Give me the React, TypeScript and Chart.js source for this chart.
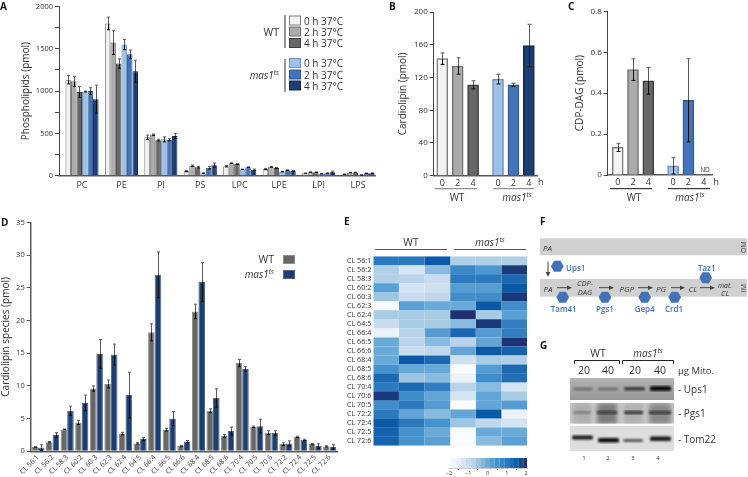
import React, { useEffect, useRef } from "react";
import { Chart, registerables } from "chart.js";

Chart.register(...registerables);

const FONT = "'Open Sans', sans-serif";
const INK = "#333333";

// ---------- data ----------
const lipidClasses = ["PC", "PE", "PI", "PS", "LPC", "LPE", "LPI", "LPS"];
const conditionNames = ["WT 0 h 37°C", "WT 2 h 37°C", "WT 4 h 37°C", "mas1ts 0 h 37°C", "mas1ts 2 h 37°C", "mas1ts 4 h 37°C"];
const wt0 = [1135, 1800, 455, 55, 112, 78, 28, 17];
const wt2 = [1115, 1575, 485, 118, 148, 105, 42, 37];
const wt4 = [990, 1325, 420, 100, 138, 92, 42, 38];
const mas0 = [995, 1550, 430, 30, 75, 48, 22, 8];
const mas2 = [1000, 1435, 425, 95, 100, 65, 30, 28];
const mas4 = [905, 1235, 470, 125, 70, 55, 42, 28];
const wt0Err = [50, 75, 25, 8, 8, 8, 3, 3];
const wt2Err = [60, 140, 8, 8, 4, 5, 4, 3];
const wt4Err = [65, 55, 10, 10, 4, 4, 3, 4];
const mas0Err = [5, 60, 30, 3, 3, 3, 2, 1];
const mas2Err = [40, 50, 12, 15, 5, 5, 3, 3];
const mas4Err = [165, 130, 30, 25, 8, 6, 12, 5];

const hours = ["0", "2", "4", "0", "2", "4"];
const cardiolipin = [143, 134, 111, 118, 111, 159];
const cardiolipinErr = [7, 10, 5, 6, 2, 26];
const cdpDag = [0.135, 0.515, 0.46, 0.045, 0.365, null];
const cdpDagErr = [0.02, 0.053, 0.065, 0.04, 0.203, null];

const speciesD = ["CL 56:1", "CL 56:2", "CL 58:3", "CL 60:2", "CL 60:3", "CL 62:3", "CL 62:4", "CL 64:5", "CL 66:4", "CL 66:5", "CL 66:6", "CL 68:4", "CL 68:5", "CL 68:6", "CL 70:4", "CL 70:5", "CL 70:6", "CL 72:2", "CL 72:4", "CL 72:5", "CL 72:6"];
const speciesWt = [0.65, 1.4, 3.35, 4.4, 9.6, 10.3, 2.7, 1.2, 18.2, 3.3, 0.8, 21.4, 6.2, 2.35, 13.5, 3.75, 2.85, 1.1, 2.2, 1.1, 0.75];
const speciesWtErr = [0.05, 0.1, 0.05, 0.3, 0.4, 0.6, 0.2, 0.1, 1.3, 0.2, 0.1, 1.1, 0.3, 0.25, 0.55, 0.1, 0.3, 0.2, 0.1, 0.1, 0.1];
const speciesMas = [0.55, 2.5, 6.2, 7.4, 14.9, 14.8, 8.6, 1.9, 27, 5, 1.5, 25.9, 8.15, 3.1, 12.6, 3.85, 2.8, 1.2, 1.75, 0.8, 0.65];
const speciesMasErr = [0.45, 0.35, 0.7, 1.2, 2.2, 1.6, 3.5, 0.2, 3.5, 1.1, 0.15, 3, 1.4, 0.6, 0.35, 1.05, 0.35, 0.4, 0.1, 0.35, 0.35];

const speciesE = ["CL 56:1", "CL 56:2", "CL 58:3", "CL 60:2", "CL 60:3", "CL 62:3", "CL 62:4", "CL 64:5", "CL 66:4", "CL 66:5", "CL 66:6", "CL 68:4", "CL 68:5", "CL 68:6", "CL 70:4", "CL 70:6", "CL 70:5", "CL 72:2", "CL 72:4", "CL 72:5", "CL 72:6"];
const zWt1 = [1.0, -0.7, -0.7, 0.2, -0.5, -2, -0.6, -1.0, -1.6, 0, 0, 0, 0.5, 1.3, 1.0, 1.9, 0.6, 1.0, 1.6, 1.4, 1.4];
const zWt2 = [1.0, -1.2, -0.8, -1.2, -1.0, 0.2, -0.6, -0.6, -0.8, -0.8, -1.0, 1.6, 0.05, -0.5, 1.3, 0.6, 1.0, 0.1, 1.0, 0.5, 0.5];
const zWt3 = [1.6, -0.3, -1.0, -1.1, -0.9, 0, -0.6, -0.6, 0.3, -0.3, -0.9, 1.3, 0.05, -0.3, 0.9, 0.1, 0.3, -0.3, 0.5, 0, 0.2];
const zMas1 = [-0.7, 0.7, 1.0, 0.3, 0.6, 0, 2.0, -0.3, 1.3, -0.8, 0.1, -1.1, -2, -1.6, -0.8, -1.2, -2, 0.1, -0.5, -2, -2];
const zMas2 = [-0.7, 0.4, 1.0, 0.3, 0.6, 1.6, -0.6, 1.9, 0.3, 0.1, 1.6, -0.6, 0.3, 0.6, -0.3, 0.1, 0.1, 1.6, -0.9, 0, -0.3];
const zMas3 = [-0.7, 1.9, 1.3, 1.6, 1.9, 0.6, 0.2, 0.9, 0.9, 1.95, 1.4, -0.7, 1.3, 1.2, -1.2, -0.6, 0.3, -1.6, -1.2, 0, 0.2];
const heatColumns = [zWt1, zWt2, zWt3, zMas1, zMas2, zMas3];
const scaleSteps = [-2, -1.75, -1.5, -1.25, -1, -0.75, -0.5, -0.25, 0, 0.25, 0.5, 0.75, 1, 1.25, 1.5, 1.75, 2];
const scaleTicks = [-2, -1, 0, 1, 2];

const legendRows = ["0 h 37°C", "2 h 37°C", "4 h 37°C"];
const pathway = ["PA", "PGP", "PG", "CL"];
const laneLoads = ["20", "40", "20", "40"];
const laneNumbers = ["1", "2", "3", "4"];
const blotNames = ["- Ups1", "- Pgs1", "- Tom22"];

// ---------- styles ----------
const FILLS = ["#f2f2f2", "#ababab", "#676767", "#9dc0e8", "#4373b8", "#1d3e72"];
const EDGES = ["#7a7a7a", "#707070", "#3e3e3e", "#7391b8", "#2f5a97", "#14294d"];
const BLUE = "#4472b8";

const heatStops: [number, number[]][] = [
  [-2, [248, 252, 255]],
  [-1.5, [232, 240, 249]],
  [-1, [201, 220, 239]],
  [-0.6, [168, 204, 228]],
  [0, [106, 170, 216]],
  [0.5, [69, 146, 205]],
  [1, [45, 121, 189]],
  [1.6, [11, 88, 165]],
  [2, [31, 47, 111]],
];
function heatColor(z: number) {
  for (let i = 1; i < heatStops.length; i++) {
    if (z <= heatStops[i][0]) {
      const [a, ca] = heatStops[i - 1];
      const [b, cb] = heatStops[i];
      const t = Math.max(0, (z - a) / (b - a));
      const c = ca.map((v, k) => Math.round(v + (cb[k] - v) * t));
      return `rgb(${c[0]},${c[1]},${c[2]})`;
    }
  }
  return "rgb(31,47,111)";
}

// ---------- error bars, drawn through the value scale ----------
const errorBars = {
  id: "errorBars",
  afterDatasetsDraw(chart: any) {
    const { ctx, scales } = chart;
    chart.data.datasets.forEach((ds: any, di: number) => {
      if (!ds.err) return;
      const meta = chart.getDatasetMeta(di);
      meta.data.forEach((bar: any, i: number) => {
        const v = ds.values[i];
        const e = ds.err[i];
        if (v == null || e == null) return;
        const top = scales.y.getPixelForValue(v + e);
        const mid = scales.y.getPixelForValue(v);
        const bot = scales.y.getPixelForValue(Math.max(0, v - e));
        const x = Math.round(bar.x) + 0.5;
        const cap = ds.capHalf ?? 1.5;
        ctx.save();
        ctx.lineWidth = 1;
        ctx.strokeStyle = "#5a5a5a";
        ctx.beginPath();
        ctx.moveTo(x, top);
        ctx.lineTo(x, mid);
        ctx.moveTo(x - cap, top);
        ctx.lineTo(x + cap, top);
        ctx.stroke();
        ctx.strokeStyle = "#111111";
        ctx.beginPath();
        ctx.moveTo(x, mid);
        ctx.lineTo(x, bot);
        ctx.moveTo(x - cap, bot);
        ctx.lineTo(x + cap, bot);
        ctx.stroke();
        ctx.restore();
      });
    });
  },
};

type Box = { x: number; y: number; w: number; h: number };
type Area = { l: number; t: number; r: number; b: number };

function fixedLayout(box: Box, area: Area) {
  return {
    autoPadding: false,
    padding: { top: area.t - box.y, right: box.x + box.w - area.r, left: 0, bottom: 0 },
  };
}

function yAxis(box: Box, area: Area, o: any) {
  return {
    type: "linear",
    min: o.min,
    max: o.max,
    afterFit: (s: any) => { s.width = area.l - box.x; },
    grid: { drawOnChartArea: false, tickLength: 4, tickWidth: 1, tickColor: o.color ?? "#444" },
    border: { color: o.color ?? "#444", width: o.width ?? 1 },
    title: { display: true, text: o.title, color: INK, font: { family: FONT, size: 10 }, padding: { top: o.titlePad, bottom: 0 } },
    ticks: {
      stepSize: o.step,
      padding: 2,
      color: INK,
      font: { family: FONT, size: o.size ?? 7.5 },
      callback: o.fmt,
      autoSkip: false,
    },
  };
}

function xLinear(box: Box, area: Area, o: any) {
  return {
    type: "linear",
    offset: false,
    min: o.min,
    max: o.max,
    afterFit: (s: any) => { s.height = box.y + box.h - area.b; },
    afterBuildTicks: (s: any) => { s.ticks = o.slots.map((value: number) => ({ value })); },
    grid: { display: false, drawTicks: false },
    border: { color: "#5a5a5a", width: 1.5 },
    ticks: {
      autoSkip: false,
      maxRotation: 0,
      padding: o.pad ?? 3,
      color: INK,
      font: { family: FONT, size: o.size ?? 9 },
      callback: (_v: any, i: number) => o.labels[i],
    },
  };
}

function useChart(make: (c: HTMLCanvasElement) => Chart) {
  const ref = useRef<HTMLCanvasElement | null>(null);
  useEffect(() => {
    const chart = make(ref.current as HTMLCanvasElement);
    return () => chart.destroy();
  }, []);
  return ref;
}

function canvasStyle(b: Box): React.CSSProperties {
  return { position: "absolute", left: b.x, top: b.y, width: b.w, height: b.h };
}

// ---------- panel A ----------
function PanelA() {
  const box = { x: 0, y: 0, w: 378, h: 196 };
  const area = { l: 59, t: 6, r: 375, b: 175.7 };
  const values = [wt0, wt2, wt4, mas0, mas2, mas4];
  const errs = [wt0Err, wt2Err, wt4Err, mas0Err, mas2Err, mas4Err];
  const ref = useChart((c) => new Chart(c, {
    type: "bar",
    plugins: [errorBars],
    data: {
      datasets: values.map((v, k) => ({
        label: conditionNames[k],
        data: v.map((y, i) => ({ x: i, y })),
        values: v,
        err: errs[k],
        backgroundColor: FILLS[k],
        borderColor: EDGES[k],
        borderWidth: 1,
        barPercentage: 1,
        categoryPercentage: 0.84,
      })) as any,
    },
    options: {
      responsive: false,
      animation: false,
      layout: fixedLayout(box, area) as any,
      plugins: { legend: { display: false }, tooltip: { enabled: false } },
      scales: {
        x: xLinear(box, area, { min: -0.583, max: 7.43, slots: lipidClasses.map((_, i) => i), labels: lipidClasses, pad: 4 }),
        y: yAxis(box, area, { min: 0, max: 2000, step: 250, title: "Phospholipids (pmol)", titlePad: 20, fmt: (v: number) => (v % 500 === 0 ? String(v) : "") }),
      } as any,
    },
  }));
  return <canvas ref={ref} width={box.w} height={box.h} style={canvasStyle(box)} />;
}

// ---------- panels B and C ----------
const GENOTYPE_GAP = 0.62;
const slotOf = (i: number) => i + (i >= 3 ? GENOTYPE_GAP : 0);

function PanelSmall({ box, area, values, errs, min, max, ymax, step, title, titlePad, fmt }: any) {
  const ref = useChart((c) => new Chart(c, {
    type: "bar",
    plugins: [errorBars],
    data: {
      datasets: [{
        label: title,
        data: values.map((y: number | null, i: number) => ({ x: slotOf(i), y })),
        values,
        err: errs,
        capHalf: 2,
        backgroundColor: FILLS,
        borderColor: EDGES,
        borderWidth: 1.5,
        barThickness: 11,
      }] as any,
    },
    options: {
      responsive: false,
      animation: false,
      layout: fixedLayout(box, area) as any,
      plugins: { legend: { display: false }, tooltip: { enabled: false } },
      scales: {
        x: xLinear(box, area, { min, max, slots: hours.map((_, i) => slotOf(i)), labels: hours, pad: 2 }),
        y: yAxis(box, area, { min: 0, max: ymax, step, title, titlePad, fmt, size: 8 }),
      } as any,
    },
  }));
  return <canvas ref={ref} width={box.w} height={box.h} style={canvasStyle(box)} />;
}

// ---------- panel D ----------
function PanelD() {
  const box = { x: 0, y: 216, w: 340, h: 261 };
  const area = { l: 30.7, t: 221.7, r: 337, b: 451.3 };
  const ref = useChart((c) => new Chart(c, {
    type: "bar",
    plugins: [errorBars],
    data: {
      labels: speciesD,
      datasets: [
        { label: "WT", data: speciesWt, values: speciesWt, err: speciesWtErr, backgroundColor: "#676767", borderColor: "#8c8c8c", borderWidth: 1, barPercentage: 1, categoryPercentage: 0.9 },
        { label: "mas1ts", data: speciesMas, values: speciesMas, err: speciesMasErr, backgroundColor: "#1d3e72", borderColor: "#55657f", borderWidth: 1, barPercentage: 1, categoryPercentage: 0.9 },
      ] as any,
    },
    options: {
      responsive: false,
      animation: false,
      layout: fixedLayout(box, area) as any,
      plugins: { legend: { display: false }, tooltip: { enabled: false } },
      scales: {
        x: {
          type: "category",
          afterFit: (s: any) => { s.height = box.y + box.h - area.b; },
          grid: { display: false, drawTicks: false },
          border: { color: "#5a5a5a", width: 1.5 },
          ticks: { autoSkip: false, minRotation: 45, maxRotation: 45, padding: 2, color: INK, font: { family: FONT, size: 7 } },
        },
        y: yAxis(box, area, { min: 0, max: 35, step: 5, title: "Cardiolipin species (pmol)", titlePad: 0, color: "#5a5a5a", width: 1.5, fmt: (v: number) => String(v) }),
      } as any,
    },
  }));
  return <canvas ref={ref} width={box.w} height={box.h} style={canvasStyle(box)} />;
}

// ---------- panel E ----------
function Heatmap() {
  const box = { x: 338, y: 250, w: 192, h: 202 };
  const area = { l: 373.3, t: 255.7, r: 527, b: 447.3 };
  const ref = useChart((c) => new Chart(c, {
    type: "bar",
    data: {
      labels: speciesE,
      datasets: heatColumns.map((col, k) => ({
        label: `column ${k + 1}`,
        data: col.map(() => 1),
        backgroundColor: col.map(heatColor),
        borderWidth: 0,
        barPercentage: 1.02,
        categoryPercentage: 1,
      })) as any,
    },
    options: {
      indexAxis: "y",
      responsive: false,
      animation: false,
      layout: { autoPadding: false, padding: { top: area.t - box.y, right: box.x + box.w - area.r, bottom: box.y + box.h - area.b, left: 0 } } as any,
      plugins: { legend: { display: false }, tooltip: { enabled: false } },
      scales: {
        x: { type: "linear", stacked: true, min: 0, max: 6, display: false },
        y: {
          type: "category",
          stacked: true,
          afterFit: (s: any) => { s.width = area.l - box.x; },
          grid: { display: false, drawTicks: false },
          border: { display: false },
          ticks: { autoSkip: false, padding: 2, color: INK, font: { family: FONT, size: 7.2 } },
        },
      } as any,
    },
  }));
  return <canvas ref={ref} width={box.w} height={box.h} style={canvasStyle(box)} />;
}

function Colorbar() {
  const box = { x: 440, y: 455, w: 95, h: 22 };
  const area = { l: 448, t: 458, r: 527, b: 468 };
  const ref = useChart((c) => new Chart(c, {
    type: "bar",
    data: {
      datasets: [{
        label: "z-score",
        data: scaleSteps.map((x) => ({ x, y: 1 })),
        backgroundColor: scaleSteps.map(heatColor),
        borderWidth: 0,
        barPercentage: 1.02,
        categoryPercentage: 1,
      }] as any,
    },
    options: {
      responsive: false,
      animation: false,
      layout: { autoPadding: false, padding: { top: area.t - box.y, right: box.x + box.w - area.r, left: area.l - box.x, bottom: 0 } } as any,
      plugins: { legend: { display: false }, tooltip: { enabled: false } },
      scales: {
        y: { type: "linear", min: 0, max: 1, display: false },
        x: {
          type: "linear",
          offset: false,
          min: -2.05,
          max: 2.05,
          afterFit: (s: any) => { s.height = box.y + box.h - area.b; },
          afterBuildTicks: (s: any) => { s.ticks = scaleTicks.map((value) => ({ value })); },
          grid: { drawOnChartArea: false, tickLength: 2, color: "#666" },
          border: { color: "#999", width: 0.5 },
          ticks: { autoSkip: false, maxRotation: 0, padding: 0.5, color: INK, font: { family: FONT, size: 5.5 }, callback: (v: any) => String(v).replace("-", "−") },
        },
      } as any,
    },
  }));
  return <canvas ref={ref} width={box.w} height={box.h} style={canvasStyle(box)} />;
}

// ---------- overlay helpers ----------
function Txt({ x, y, s = 9, a = "start", c = INK, w = 400, i = false, children, rot }: any) {
  return (
    <text x={x} y={y} fontSize={s} textAnchor={a} fill={c} fontWeight={w} fontStyle={i ? "italic" : "normal"} dominantBaseline="central"
      transform={rot ? `rotate(${rot} ${x} ${y})` : undefined}>
      {children}
    </text>
  );
}
function Mas({ x, y, s = 10, a = "middle" }: any) {
  return (
    <text x={x} y={y} fontSize={s} textAnchor={a} fill={INK} fontStyle="italic" dominantBaseline="central">
      mas1<tspan dy={-3} fontSize={s * 0.68}>ts</tspan>
    </text>
  );
}
function Line({ x1, y1, x2, y2, c = "#555", w = 1 }: any) {
  return <line x1={x1} y1={y1} x2={x2} y2={y2} stroke={c} strokeWidth={w} />;
}
function Hex({ cx, cy, r = 6.4 }: any) {
  const pts = [0, 60, 120, 180, 240, 300].map((d) => `${cx + r * Math.cos((d * Math.PI) / 180)},${cy + r * Math.sin((d * Math.PI) / 180)}`).join(" ");
  return <polygon points={pts} fill={BLUE} />;
}
function Arrow({ x1, x2, y }: any) {
  return (
    <g>
      <Line x1={x1} y1={y} x2={x2 - 3} y2={y} c="#444" w={1} />
      <polygon points={`${x2},${y} ${x2 - 5},${y - 2.3} ${x2 - 5},${y + 2.3}`} fill="#444" />
    </g>
  );
}
function Band({ x, y, w, h, c, r = 1.5 }: any) {
  return <rect x={x} y={y} width={w} height={h} rx={r} fill={c} />;
}

function Overlay() {
  const swatchRowsA = [20.5, 31.5, 43];
  const swatchRowsB = [63, 74.5, 85.5];
  return (
    <svg width={748} height={477} style={{ position: "absolute", left: 0, top: 0, pointerEvents: "none" }} fontFamily={FONT}>
      <defs>
        <filter id="blur1"><feGaussianBlur stdDeviation="1.2" /></filter>
        <filter id="blur2"><feGaussianBlur stdDeviation="2" /></filter>
        <linearGradient id="blotA" x1="0" y1="0" x2="0" y2="1">
          <stop offset="0" stopColor="#b4b4b4" /><stop offset="1" stopColor="#969696" />
        </linearGradient>
        <clipPath id="b1"><rect x={570} y={378} width={104} height={22} /></clipPath>
        <clipPath id="b2"><rect x={570} y={402.7} width={104} height={21} /></clipPath>
        <clipPath id="b3"><rect x={570} y={426} width={104} height={25} /></clipPath>
      </defs>

      {/* panel letters */}
      <Txt x={0} y={6} s={10} w={700} c="#111">A</Txt>
      <Txt x={389} y={6} s={10} w={700} c="#111">B</Txt>
      <Txt x={568} y={6} s={10} w={700} c="#111">C</Txt>
      <Txt x={1} y={222} s={10} w={700} c="#111">D</Txt>
      <Txt x={344} y={221} s={10} w={700} c="#111">E</Txt>
      <Txt x={540} y={221} s={10} w={700} c="#111">F</Txt>
      <Txt x={540} y={345} s={10} w={700} c="#111">G</Txt>

      {/* legend A */}
      <Txt x={279} y={32} s={10.5} a="end">WT</Txt>
      <Mas x={279} y={75} s={10} a="end" />
      <Line x1={285} y1={15} x2={285} y2={48} c="#777" w={1.5} />
      <Line x1={285} y1={59} x2={285} y2={92} c="#777" w={1.5} />
      {swatchRowsA.map((y, k) => (
        <g key={k}>
          <rect x={289.5} y={y - 4.5} width={11} height={9} fill={FILLS[k]} stroke={EDGES[k]} />
          <Txt x={304} y={y} s={10}>{legendRows[k]}</Txt>
        </g>
      ))}
      {swatchRowsB.map((y, k) => (
        <g key={k}>
          <rect x={289.5} y={y - 4.5} width={11} height={9} fill={FILLS[k + 3]} stroke={EDGES[k + 3]} />
          <Txt x={304} y={y} s={10}>{legendRows[k]}</Txt>
        </g>
      ))}

      {/* B decorations */}
      <Txt x={538} y={181.5} s={9}>h</Txt>
      <Line x1={435} y1={188.7} x2={477} y2={188.7} c="#777" />
      <Line x1={493} y1={188.7} x2={534} y2={188.7} c="#777" />
      <Txt x={457} y={197} s={10} a="middle">WT</Txt>
      <Mas x={517} y={197} />

      {/* C decorations */}
      <Txt x={713.5} y={181.5} s={9}>h</Txt>
      <Txt x={705} y={169} s={6.5} a="middle">ND</Txt>
      <Line x1={610} y1={188.7} x2={652} y2={188.7} c="#111" />
      <Line x1={668} y1={188.7} x2={710} y2={188.7} c="#111" />
      <Txt x={634} y={197} s={10} a="middle">WT</Txt>
      <Mas x={690} y={197} />

      {/* legend D */}
      <Txt x={274} y={259} s={10.5} a="end">WT</Txt>
      <Mas x={274} y={274} a="end" />
      <rect x={283.5} y={255.5} width={11} height={8} fill="#676767" stroke="#8c8c8c" />
      <rect x={283.5} y={270.5} width={11} height={8} fill="#1d3e72" stroke="#55657f" />

      {/* headers E */}
      <Txt x={411} y={242} s={10.5} a="middle">WT</Txt>
      <Mas x={490} y={242} />
      <Line x1={375} y1={249.5} x2={447} y2={249.5} c="#555" />
      <Line x1={454} y1={249.5} x2={526} y2={249.5} c="#555" />

      {/* panel F */}
      <rect x={540} y={238.3} width={207} height={17} fill="#d0d0d0" />
      <rect x={540} y={279} width={207} height={17.7} fill="#d0d0d0" />
      <Txt x={543} y={247} s={8} i>{pathway[0]}</Txt>
      <Txt x={743} y={247} s={7} a="middle" rot={-90}>OM</Txt>
      <Txt x={743} y={288} s={7} a="middle" rot={-90}>IM</Txt>
      <Line x1={548} y1={261.7} x2={548} y2={274} c="#444" />
      <polygon points="548,277 545.7,272 550.3,272" fill="#444" />
      <Hex cx={557.3} cy={266.3} />
      <Txt x={566} y={267} s={8} c={BLUE} w={600}>Ups1</Txt>
      <Txt x={548} y={288} s={8} a="middle" i>{pathway[0]}</Txt>
      <Arrow x1={557} x2={572} y={287.7} />
      <Txt x={585} y={283} s={7.5} a="middle" i>CDP-</Txt>
      <Txt x={585} y={292} s={7.5} a="middle" i>DAG</Txt>
      <Arrow x1={599} x2={614} y={287.7} />
      <Txt x={626.7} y={288} s={8} a="middle" i>{pathway[1]}</Txt>
      <Arrow x1={638} x2={653} y={287.7} />
      <Txt x={661} y={288} s={8} a="middle" i>{pathway[2]}</Txt>
      <Arrow x1={671} x2={685} y={287.7} />
      <Txt x={692.7} y={288} s={8} a="middle" i>{pathway[3]}</Txt>
      <Arrow x1={700} x2={715} y={287.7} />
      <Txt x={725} y={285} s={7} a="middle" i>mat.</Txt>
      <Txt x={725} y={293} s={7.5} a="middle" i>CL</Txt>
      <Hex cx={562.7} cy={297.3} />
      <Hex cx={605} cy={297.3} />
      <Hex cx={644.7} cy={297.3} />
      <Hex cx={674.7} cy={297.3} />
      <Hex cx={705.7} cy={277.7} />
      <Txt x={563.7} y={308} s={8} a="middle" c={BLUE} w={600}>Tam41</Txt>
      <Txt x={605} y={308} s={8} a="middle" c={BLUE} w={600}>Pgs1</Txt>
      <Txt x={644.7} y={308} s={8} a="middle" c={BLUE} w={600}>Gep4</Txt>
      <Txt x={674} y={308} s={8} a="middle" c={BLUE} w={600}>Crd1</Txt>
      <Txt x={706.7} y={267} s={8} a="middle" c={BLUE} w={600}>Taz1</Txt>

      {/* panel G */}
      <Txt x={598} y={353} s={10.5} a="middle">WT</Txt>
      <Mas x={648} y={353} s={10} />
      <polyline points="574.5,364 574.5,360.5 619.5,360.5 619.5,364" fill="none" stroke="#222" />
      <polyline points="622.5,364 622.5,360.5 673.5,360.5 673.5,364" fill="none" stroke="#222" />
      {[584, 608, 635, 660].map((x, k) => <Txt key={k} x={x} y={370} s={10.5} a="middle">{laneLoads[k]}</Txt>)}
      <Txt x={678} y={370} s={9.5}>µg Mito.</Txt>

      <g clipPath="url(#b1)">
        <rect x={570} y={378} width={104} height={22} fill="url(#blotA)" />
        <g filter="url(#blur1)">
          <Band x={573} y={387.5} w={20} h={3} c="#6f6f6f" />
          <Band x={598} y={387.5} w={20} h={3} c="#6f6f6f" />
          <Band x={624} y={387} w={21} h={3.5} c="#3d3d3d" />
          <Band x={650} y={386} w={21} h={5} c="#0c0c0c" />
        </g>
      </g>
      <g clipPath="url(#b2)">
        <rect x={570} y={402.7} width={104} height={21} fill="#c8c8c8" />
        <g filter="url(#blur2)">
          <Band x={573} y={403} w={18} h={21} c="#aeaeae" />
          <Band x={597} y={403} w={20} h={21} c="#7d7d7d" />
          <Band x={624} y={403} w={19} h={21} c="#b0b0b0" />
          <Band x={649} y={403} w={22} h={21} c="#8a8a8a" />
        </g>
        <g filter="url(#blur1)">
          <Band x={573} y={411} w={18} h={3} c="#808080" />
          <Band x={597} y={410.5} w={20} h={4} c="#444" />
          <Band x={624} y={410.5} w={19} h={4} c="#444" />
          <Band x={649} y={410.5} w={22} h={4} c="#444" />
        </g>
      </g>
      <g clipPath="url(#b3)">
        <rect x={570} y={426} width={104} height={25} fill="#dedede" />
        <g filter="url(#blur1)">
          <Band x={572} y={435.5} w={21} h={4} c="#1d1d1d" />
          <Band x={598} y={438} w={21} h={4.5} c="#0f0f0f" />
          <Band x={623} y={439} w={20} h={3} c="#5a5a5a" />
          <Band x={650} y={436.5} w={21} h={4.5} c="#1d1d1d" />
        </g>
      </g>
      {[389, 413, 439].map((y, k) => <Txt key={k} x={678} y={y} s={10}>{blotNames[k]}</Txt>)}
      {[584, 608, 633, 658].map((x, k) => <Txt key={k} x={x} y={458} s={6} a="middle">{laneNumbers[k]}</Txt>)}
    </svg>
  );
}

export default function App() {
  return (
    <div style={{ position: "absolute", left: 0, top: 0, width: 748, height: 477, overflow: "hidden", background: "#fff" }}>
      <PanelA />
      <PanelSmall
        box={{ x: 395, y: 0, w: 145, h: 192 }} area={{ l: 433.7, t: 12, r: 537, b: 175.7 }}
        values={cardiolipin} errs={cardiolipinErr} min={-0.558} max={6.15} ymax={200} step={40}
        title="Cardiolipin (pmol)" titlePad={2.3} fmt={(v: number) => String(v)} />
      <PanelSmall
        box={{ x: 572, y: 0, w: 142, h: 192 }} area={{ l: 607.7, t: 11.3, r: 712, b: 175 }}
        values={cdpDag} errs={cdpDagErr} min={-0.654} max={6.16} ymax={0.8} step={0.2}
        title="CDP-DAG (pmol)" titlePad={2} fmt={(v: number) => (v === 0 ? "0" : v.toFixed(1))} />
      <PanelD />
      <Heatmap />
      <Colorbar />
      <Overlay />
    </div>
  );
}
